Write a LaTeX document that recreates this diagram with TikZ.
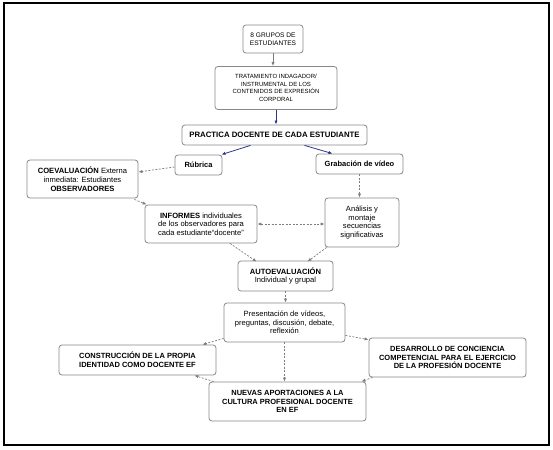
\documentclass[tikz,border=0pt]{standalone}
\usepackage{fontspec}
\setmainfont{Liberation Sans}
\usetikzlibrary{arrows.meta,calc}
\definecolor{boxgray}{RGB}{135,135,135}
\definecolor{arrgray}{RGB}{125,125,125}
\definecolor{navyarr}{RGB}{40,55,140}
\tikzset{
  box/.style={draw=boxgray,line width=0.8pt,rounded corners=3pt,align=center,inner sep=1pt,
    font=\fontsize{7.6}{8.7}\selectfont,text=black},
  conn/.style={draw=arrgray,line width=0.7pt,-{Latex[length=4pt,width=3.2pt]}},
  dconn/.style={conn,dash pattern=on 2pt off 1.5pt},
  bconn/.style={draw=navyarr,line width=0.8pt,-{Latex[length=4pt,width=3.2pt]}},
}
\begin{document}
\begin{tikzpicture}[x=1pt,y=-1pt]
\useasboundingbox (0,0) rectangle (553,449);
\draw[line width=1.2pt,black] (4,3) rectangle (549,445);

\node[box,minimum width=60pt,minimum height=28pt,font=\fontsize{6.6}{7.6}\selectfont] (g8) at (273,39) {8 GRUPOS DE\\ESTUDIANTES};
\node[box,minimum width=122pt,minimum height=43pt,font=\fontsize{6}{7.5}\selectfont] (trat) at (276,88) {TRATAMIENTO INDAGADOR/\\INSTRUMENTAL DE LOS\\CONTENIDOS DE EXPRESIÓN\\CORPORAL};
\node[box,minimum width=185pt,minimum height=20pt,font=\fontsize{7.8}{9}\selectfont\bfseries] (prac) at (274.5,135) {PRACTICA DOCENTE DE CADA ESTUDIANTE};
\node[box,minimum width=47pt,minimum height=20pt,font=\fontsize{7.5}{8.6}\selectfont\bfseries] (rub) at (198.5,165) {Rúbrica};
\node[box,minimum width=111pt,minimum height=38pt] (coev) at (82.5,179) {\textbf{COEVALUACIÓN} Externa\\inmediata: Estudiantes\\\textbf{OBSERVADORES}};
\node[box,minimum width=112pt,minimum height=38pt] (inf) at (201,224) {\textbf{INFORMES} individuales\\de los observadores para\\cada estudiante“docente”};
\node[box,minimum width=87pt,minimum height=20pt,font=\fontsize{7.5}{8.6}\selectfont\bfseries] (grab) at (359.5,164) {Grabación de vídeo};
\node[box,minimum width=74pt,minimum height=49pt] (anal) at (362,222.5) {Análisis y\\montaje\\secuencias\\significativas};
\node[box,minimum width=95pt,minimum height=30pt] (auto) at (285.5,276) {\textbf{AUTOEVALUACIÓN}\\Individual y grupal};
\node[box,minimum width=121pt,minimum height=39pt] (pres) at (284.5,322.5) {Presentación de vídeos,\\preguntas, discusión, debate,\\reflexión};
\node[box,minimum width=157pt,minimum height=30pt,font=\fontsize{7.5}{8.8}\selectfont\bfseries] (cons) at (137.5,360) {CONSTRUCCIÓN DE LA PROPIA\\IDENTIDAD COMO DOCENTE EF};
\node[box,minimum width=157pt,minimum height=39pt,font=\fontsize{7.5}{8.8}\selectfont\bfseries] (desa) at (447.5,357.5) {DESARROLLO DE CONCIENCIA\\COMPETENCIAL PARA EL EJERCICIO\\DE LA PROFESIÓN DOCENTE};
\node[box,minimum width=157pt,minimum height=39pt,font=\fontsize{7.5}{8.8}\selectfont\bfseries] (nuev) at (287.5,401.5) {NUEVAS APORTACIONES A LA\\CULTURA PROFESIONAL DOCENTE\\EN EF};

% solid connectors
\draw[conn] (g8.south) -- (g8.south |- trat.north);
\draw[bconn] (trat.south) -- (trat.south |- prac.north);
\draw[bconn] ([xshift=-24pt]prac.south) -- ([xshift=-1pt]rub.north east);
\draw[bconn] ([xshift=30pt]prac.south) -- ([xshift=-27pt]grab.north);

% dashed connectors
\draw[dconn] ([yshift=-2pt]rub.west) -- ([yshift=7pt]coev.east);
\draw[dconn] ([xshift=-4pt,yshift=-1pt]coev.south east) -- ([xshift=2pt]inf.north west);
\draw[dconn] (grab.south) -- (grab.south |- anal.north);
\draw[dconn,{Latex[length=4pt,width=3.2pt]}-{Latex[length=4pt,width=3.2pt]}] (inf.east) -- (inf.east -| anal.west);
\draw[dconn] ([xshift=29pt]inf.south) -- ([xshift=19pt,yshift=-1pt]auto.north west);
\draw[dconn] ([xshift=2pt]anal.south west) -- ([xshift=22pt,yshift=-1pt]auto.north);
\draw[dconn] (auto.south) -- (auto.south |- pres.north);
\draw[dconn] ([yshift=4pt]pres.south west) -- ([xshift=-14pt]cons.north east);
\draw[dconn] ([yshift=7pt]pres.south east) -- ([yshift=-2pt]desa.north west);
\draw[dconn] (pres.south) -- (pres.south |- nuev.north);
\draw[dconn] ([xshift=5pt]nuev.north west) -- ([xshift=-22pt]cons.south east);
\draw[dconn] ([xshift=4pt]desa.south west) -- ([xshift=-5pt]nuev.north east);
\end{tikzpicture}
\end{document}
